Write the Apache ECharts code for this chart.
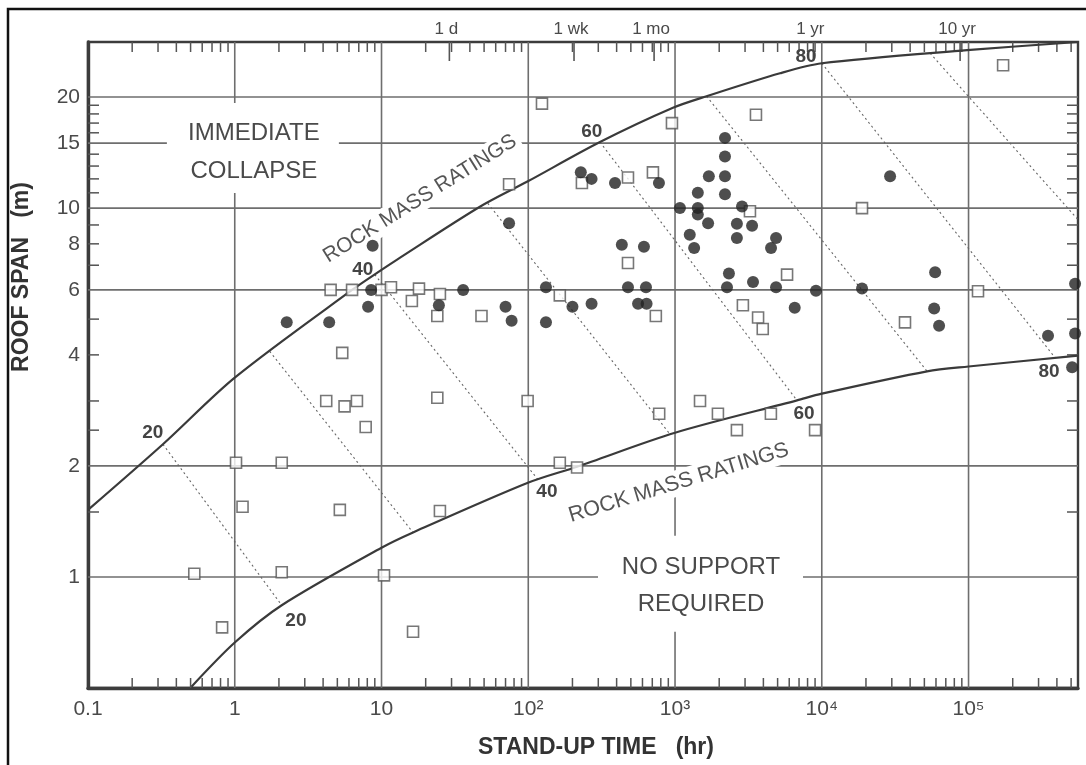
<!DOCTYPE html>
<html><head><meta charset="utf-8">
<script src="https://cdn.jsdelivr.net/npm/echarts@6/dist/echarts.min.js"></script>
<style>html,body{margin:0;padding:0;background:#fff}#c{width:1086px;height:765px}</style>
</head><body><div id="c"></div>
<script>
// ---------- axis ranges & ticks ----------
const X_MIN = 0.1, X_MAX = 557000, Y_MIN = 0.5, Y_MAX = 28.2;
const xTickValues = [0.1, 1, 10, 100, 1000, 10000, 100000];
const xTickLabels = ['0.1', '1', '10', '10²', '10³', '10⁴', '10⁵'];
const xGridValues = [1, 10, 100, 1000, 10000, 100000];
const xDecades = [0.1, 1, 10, 100, 1000, 10000, 100000];
const xMinorMultipliers = [2, 3, 4, 5, 6, 7, 8, 9];
const yTickValues = [1, 2, 4, 6, 8, 10, 15, 20];
const yTickLabels = ['1', '2', '4', '6', '8', '10', '15', '20'];
const yGridValues = [1, 2, 6, 10, 15, 20];
const yMinorTicks = [1.5, 2.5, 3, 4, 5, 7, 8, 9, 11, 12, 13, 14, 16, 17, 18, 19];
const timeMarkValues = [29, 205, 720, 8760, 87600];
const timeMarkLabels = ['1 d', '1 wk', '1 mo', '1 yr', '10 yr'];

// ---------- data (stand-up time hr, roof span m) ----------
const openSquares = [
 [0.53,1.02],[0.82,0.73],[1.02,2.04],[1.13,1.55],[2.09,2.04],[2.09,1.03],[5.2,1.52],[10.4,1.01],[16.4,0.71],[25,1.51],
 [99,3.0],[164,2.04],[215,1.98],[124,19.2],[74,11.6],[232,11.7],[478,12.1],[707,12.5],[953,17.0],[3560,17.9],
 [3240,9.8],[18800,10.0],[172000,24.4],[4.5,6.0],[6.3,6.0],[10,6.0],[11.6,6.1],[18,6.05],[25,5.85],[16.1,5.6],
 [24,5.1],[48,5.1],[164,5.8],[478,7.1],[740,5.1],[5.4,4.05],[4.2,3.0],[5.6,2.9],[6.8,3.0],[7.8,2.55],
 [24,3.06],[780,2.77],[1480,3.0],[1960,2.77],[2640,2.5],[4500,2.77],[9000,2.5],[2900,5.45],[3680,5.05],[3960,4.7],
 [5800,6.6],[36900,4.9],[116000,5.95]
];
const filledCircles = [
 [2.26,4.9],[4.4,4.9],[8.5,6.0],[8.1,5.4],[8.7,7.9],[36,6.0],[24.6,5.45],[70,5.4],[77,4.95],[132,6.1],
 [132,4.9],[200,5.4],[270,5.5],[478,6.1],[634,6.1],[560,5.5],[640,5.5],[434,7.95],[614,7.85],[74,9.1],
 [228,12.5],[270,12.0],[390,11.7],[777,11.7],
 [2190,15.5],[2190,13.8],[1700,12.2],[2190,12.2],[1430,11.0],[2190,10.9],[1080,10.0],[1430,10.0],[1430,9.6],[1680,9.1],
 [2860,10.1],[2640,9.07],[3350,8.96],[2640,8.3],[1260,8.47],[1350,7.8],[4880,8.3],[4510,7.8],
 [2330,6.65],[2260,6.1],[3400,6.3],[4880,6.1],[9130,5.97],[6540,5.37],[18800,6.05],[59200,6.7],[58300,5.34],[63000,4.8],
 [29200,12.2],[532000,6.24],[348000,4.51],[532000,4.57],[508000,3.7]
];
const upperCurve = [[0.1,1.52],[0.324,2.29],[1,3.47],[6.3,6.0],[10,6.8],[12.7,7.24],[46.8,10.08],
  [97.9,11.78],[308,15.1],[968,18.7],[1640,20.1],[5192,23.2],[10000,24.7],[97700,26.8],[557000,28.2]];
const lowerCurve = [[0.507,0.504],[1,0.664],[2.09,0.838],[10,1.2],[16.4,1.32],[99.4,1.8],[215,1.99],[1000,2.46],
  [6780,3.01],[10000,3.14],[52200,3.61],[100000,3.72],[557000,3.98]];
const rmrValues = [20, 30, 40, 50, 60, 70, 80, 90];
const rmrStart = [[0.324,2.29],[1.73,4.09],[9.0,6.6],[53,10.3],[308,15.1],[1640,20.1],[10000,24.7],[54700,26.3]];
const rmrEnd = [[2.09,0.838],[16.4,1.32],[116,1.84],[923,2.44],[6780,3.01],[52200,3.61],[389000,3.93],[557000,9.3]];
const rmrUpperLabels = ['20', '40', '60', '80'];
const rmrLowerLabels = ['20', '40', '60', '80'];

// ---------- annotation anchors (data units) ----------
const rmrUpperAnchors = [[0.276,2.46],[7.46,6.81],[271,16.1],[7810,25.7]];
const rmrLowerAnchors = [[2.61,0.759],[134,1.70],[7570,2.77],[354000,3.61]];
const collapseAnchor = [1.35, 14.2];
const noSupportAnchor = [1503, 0.947];
const upperRatingAnchor = [18.3, 10.6];
const lowerRatingAnchor = [1060, 1.8];

const FONT = '"Liberation Sans", Arial, Helvetica, sans-serif';
const GRID_C = '#6e6e6e', TICK_C = '#555', TXT = '#4a4a4a', AXIS_C = '#3c3c3c';

const xMinorTicks = [];
xDecades.forEach(d => xMinorMultipliers.forEach(m => { if (d * m < X_MAX) xMinorTicks.push(d * m); }));

function vGrid(params, api) {
  const cs = params.coordSys, x = api.coord([api.value(0), Y_MIN])[0];
  return {type:'line', shape:{x1:x, y1:cs.y, x2:x, y2:cs.y + cs.height}, style:{stroke:GRID_C, lineWidth:1.6}};
}
function hGrid(params, api) {
  const cs = params.coordSys, y = api.coord([X_MIN, api.value(1)])[1];
  return {type:'line', shape:{x1:cs.x, y1:y, x2:cs.x + cs.width, y2:y}, style:{stroke:GRID_C, lineWidth:1.6}};
}
function xMinor(params, api) {
  const cs = params.coordSys, x = api.coord([api.value(0), Y_MIN])[0], b = cs.y + cs.height;
  return {type:'group', children:[
    {type:'line', shape:{x1:x, y1:b, x2:x, y2:b - 10}, style:{stroke:TICK_C, lineWidth:1.5}},
    {type:'line', shape:{x1:x, y1:cs.y, x2:x, y2:cs.y + 10}, style:{stroke:TICK_C, lineWidth:1.5}}
  ]};
}
function yMinor(params, api) {
  const cs = params.coordSys, y = api.coord([X_MIN, api.value(1)])[1], r = cs.x + cs.width;
  return {type:'group', children:[
    {type:'line', shape:{x1:cs.x, y1:y, x2:cs.x + 11, y2:y}, style:{stroke:TICK_C, lineWidth:1.5}},
    {type:'line', shape:{x1:r, y1:y, x2:r - 11, y2:y}, style:{stroke:TICK_C, lineWidth:1.5}}
  ]};
}
function timeMark(params, api) {
  const cs = params.coordSys, x = api.coord([api.value(0), Y_MIN])[0];
  return {type:'group', children:[
    {type:'line', shape:{x1:x, y1:cs.y, x2:x, y2:cs.y + 19}, style:{stroke:TICK_C, lineWidth:1.6}},
    {type:'text', x:x - 3, y:cs.y - 13, style:{text:timeMarkLabels[params.dataIndex], fill:TXT, font:'17px ' + FONT, align:'center', verticalAlign:'middle'}}
  ]};
}
function xLabel(params, api) {
  const cs = params.coordSys, x = api.coord([api.value(0), Y_MIN])[0];
  return {type:'text', x:x, y:cs.y + cs.height + 21, style:{text:xTickLabels[params.dataIndex], fill:TXT, font:'21px ' + FONT, align:'center', verticalAlign:'middle'}};
}
function yLabel(params, api) {
  const cs = params.coordSys, y = api.coord([X_MIN, api.value(1)])[1];
  return {type:'text', x:cs.x - 8, y:y, style:{text:yTickLabels[params.dataIndex], fill:TXT, font:'21px ' + FONT, align:'right', verticalAlign:'middle'}};
}
function rmrLabel(labels) {
  return function (params, api) {
    const p = api.coord([api.value(0), api.value(1)]);
    return {type:'text', x:p[0], y:p[1], style:{text:labels[params.dataIndex], fill:'#444', font:'bold 19px ' + FONT, align:'center', verticalAlign:'middle'}};
  };
}

const series = [
  {type:'custom', name:'xGrid', silent:true, z:1, data:xGridValues.map(v => [v, Y_MIN]), renderItem:vGrid},
  {type:'custom', name:'yGrid', silent:true, z:1, data:yGridValues.map(v => [X_MIN, v]), renderItem:hGrid},
  {type:'custom', name:'xMinor', silent:true, z:1, data:xMinorTicks.map(v => [v, Y_MIN]), renderItem:xMinor},
  {type:'custom', name:'yMinor', silent:true, z:1, data:yMinorTicks.map(v => [X_MIN, v]), renderItem:yMinor},
  {type:'custom', name:'timeMarks', silent:true, z:1, data:timeMarkValues.map(v => [v, Y_MIN]), renderItem:timeMark},
  {type:'custom', name:'xLabels', silent:true, z:1, data:xTickValues.map(v => [v, Y_MIN]), renderItem:xLabel},
  {type:'custom', name:'yLabels', silent:true, z:1, data:yTickValues.map(v => [X_MIN, v]), renderItem:yLabel},
  {type:'line', name:'RMR upper', data:upperCurve, smooth:0.3, symbol:'none', z:5, lineStyle:{color:'#3a3a3a', width:2.2}},
  {type:'line', name:'RMR lower', data:lowerCurve, smooth:0.3, symbol:'none', z:5, lineStyle:{color:'#3a3a3a', width:2.2}},
  {type:'custom', name:'rmrUpperLabels', silent:true, z:5, data:rmrUpperAnchors, renderItem:rmrLabel(rmrUpperLabels)},
  {type:'custom', name:'rmrLowerLabels', silent:true, z:5, data:rmrLowerAnchors, renderItem:rmrLabel(rmrLowerLabels)}
];
rmrValues.forEach((v, i) => {
  series.push({type:'line', name:'RMR ' + v, data:[rmrStart[i], rmrEnd[i]], symbol:'none', z:4,
    lineStyle:{color:'#666', width:1.1, type:[2, 3]}});
});
series.push({type:'scatter', name:'no support / failures', data:openSquares, symbol:'rect', symbolSize:11, z:6,
  itemStyle:{color:'#fff', borderColor:'#555', borderWidth:1.6}});
series.push({type:'scatter', name:'cases', data:filledCircles, symbol:'circle', symbolSize:12, z:7,
  itemStyle:{color:'#222'}});

const chart = echarts.init(document.getElementById('c'), null, {renderer:'canvas', width:1086, height:765});
const option = {
  animation:false,
  backgroundColor:'#fff',
  grid:{left:88, right:8, top:42, bottom:77, show:true, borderColor:AXIS_C, borderWidth:2.4, backgroundColor:'transparent'},
  xAxis:{type:'log', logBase:10, min:X_MIN, max:X_MAX, axisLine:{show:true, onZero:false, lineStyle:{color:AXIS_C, width:3.4}},
    axisTick:{show:false}, axisLabel:{show:false}, splitLine:{show:false}},
  yAxis:{type:'log', logBase:10, min:Y_MIN, max:Y_MAX, axisLine:{show:true, onZero:false, lineStyle:{color:AXIS_C, width:3.4}},
    axisTick:{show:false}, axisLabel:{show:false}, splitLine:{show:false}},
  series:series
};
chart.setOption(option);

const P = d => chart.convertToPixel({gridIndex:0}, d);
const c1 = P(collapseAnchor), c2 = P(noSupportAnchor), r1 = P(upperRatingAnchor), r2 = P(lowerRatingAnchor);
const deg = Math.PI / 180;
chart.setOption({graphic:[
  {type:'rect', silent:true, z:3, shape:{x:c1[0] - 87, y:c1[1] - 49, width:172, height:90}, style:{fill:'#fff'}},
  {type:'text', silent:true, z:4, x:c1[0], y:c1[1], style:{text:'IMMEDIATE\nCOLLAPSE', fill:TXT, font:'24px ' + FONT, lineHeight:38, align:'center', verticalAlign:'middle'}},
  {type:'rect', silent:true, z:3, shape:{x:c2[0] - 103, y:c2[1] - 50, width:205, height:96}, style:{fill:'#fff'}},
  {type:'text', silent:true, z:4, x:c2[0], y:c2[1], style:{text:'NO SUPPORT\nREQUIRED', fill:TXT, font:'24px ' + FONT, lineHeight:37, align:'center', verticalAlign:'middle'}},
  {type:'text', silent:true, z:3, x:r1[0], y:r1[1], rotation:32 * deg, style:{text:'ROCK MASS RATINGS', fill:'#555', font:'21px ' + FONT, align:'center', verticalAlign:'middle', backgroundColor:'#fff', padding:[2, 4]}},
  {type:'text', silent:true, z:3, x:r2[0], y:r2[1], rotation:17 * deg, style:{text:'ROCK MASS RATINGS', fill:'#555', font:'21.5px ' + FONT, align:'center', verticalAlign:'middle', backgroundColor:'#fff', padding:[2, 4]}},
  {type:'text', silent:true, z:4, x:596, y:748, style:{text:'STAND-UP TIME   (hr)', fill:'#333', font:'bold 23px ' + FONT, align:'center', verticalAlign:'middle'}},
  {type:'text', silent:true, z:4, x:22, y:277, rotation:90 * deg, style:{text:'ROOF SPAN   (m)', fill:'#333', font:'bold 23px ' + FONT, align:'center', verticalAlign:'middle'}},
  {type:'rect', silent:true, z:10, shape:{x:8, y:9, width:1100, height:800}, style:{fill:'none', stroke:'#111', lineWidth:2.5}}
]});
</script></body></html>
